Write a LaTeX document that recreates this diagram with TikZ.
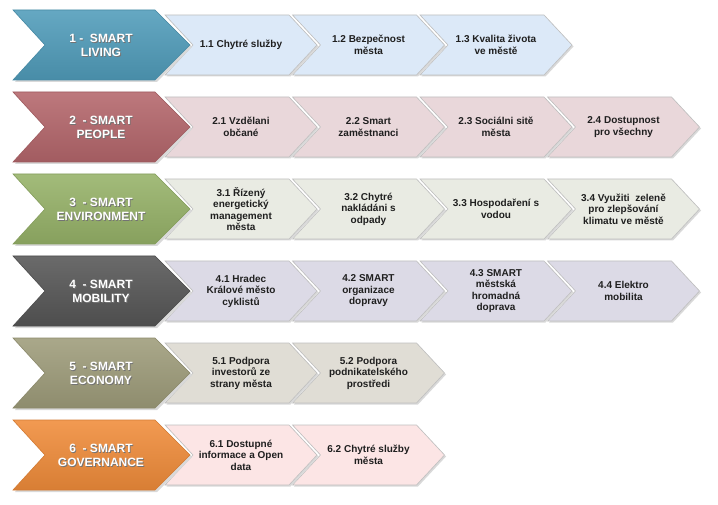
\documentclass[tikz,border=0pt]{standalone}
\usepackage{fontspec}
\setmainfont{Liberation Sans}
\definecolor{m1}{RGB}{80,156,186}
\definecolor{m2}{RGB}{180,102,107}
\definecolor{m3}{RGB}{150,178,104}
\definecolor{m4}{RGB}{86,86,86}
\definecolor{m5}{RGB}{158,156,122}
\definecolor{m6}{RGB}{240,140,58}
\definecolor{s1}{RGB}{220,233,248}
\definecolor{s2}{RGB}{233,215,218}
\definecolor{s3}{RGB}{233,235,227}
\definecolor{s4}{RGB}{220,218,230}
\definecolor{s5}{RGB}{224,221,213}
\definecolor{s6}{RGB}{252,229,229}
\tikzset{
  maintext/.style={font=\bfseries\fontsize{12}{14}\selectfont, text=white, inner sep=0pt},
  subtext/.style={font=\bfseries\fontsize{10}{11.5}\selectfont, text=black!88, align=center, inner sep=0pt},
  shadowfill/.style={fill=black!15},
}
\newcommand\shtxt[1]{\makebox[0pt][l]{\hspace{0.9pt}\raisebox{-0.9pt}{\textcolor{black!55}{\begin{tabular}{@{}c@{}}#1\end{tabular}}}}\begin{tabular}{@{}c@{}}#1\end{tabular}}
% #1 y-centre, #2 colour, #3 node name, #4 text
\newcommand\mainchev[4]{%
  \fill[shadowfill, shift={(2,2)}] (13,{#1-35}) -- (155,{#1-35}) -- (190,#1) -- (155,{#1+35}) -- (13,{#1+35}) -- (45,#1) -- cycle;
  \shade[top color=#2!88!white, middle color=#2, bottom color=#2!90!black, draw=#2!88!black, line width=0.6pt]
    (13,{#1-35}) -- (155,{#1-35}) -- (190,#1) -- (155,{#1+35}) -- (13,{#1+35}) -- (45,#1) -- cycle;
  \node[maintext] (#3) at (101,{#1+2}) {\shtxt{#4}};
}
% #1 index, #2 y-centre, #3 colour, #4 node name, #5 text
\newcommand\subchev[5]{%
  \pgfmathsetmacro\cL{165+127.5*(#1-1)}%
  \fill[shadowfill, shift={(1.5,1.5)}] (\cL,{#2-30}) -- ({\cL+124},{#2-30}) -- ({\cL+152},#2) -- ({\cL+124},{#2+30}) -- (\cL,{#2+30}) -- ({\cL+28},#2) -- cycle;
  \fill[#3, draw=black!25, line width=0.6pt] (\cL,{#2-30}) -- ({\cL+124},{#2-30}) -- ({\cL+152},#2) -- ({\cL+124},{#2+30}) -- (\cL,{#2+30}) -- ({\cL+28},#2) -- cycle;
  \node[subtext] (#4) at ({\cL+76},#2) {#5};
}
\begin{document}
\begin{tikzpicture}[x=1pt,y=-1pt]
\path[use as bounding box, fill=white] (0,0) rectangle (718,505);

% Row 1
\subchev{3}{45}{s1}{s13}{1.3 Kvalita života\\ve městě}
\subchev{2}{45}{s1}{s12}{1.2 Bezpečnost\\města}
\subchev{1}{45}{s1}{s11}{1.1 Chytré služby}
\mainchev{45}{m1}{m1n}{1 -\ \ SMART\\LIVING}

% Row 2
\subchev{4}{127}{s2}{s24}{2.4 Dostupnost\\pro všechny}
\subchev{3}{127}{s2}{s23}{2.3 Sociálni sitě\\města}
\subchev{2}{127}{s2}{s22}{2.2 Smart\\zaměstnanci}
\subchev{1}{127}{s2}{s21}{2.1 Vzdělani\\občané}
\mainchev{127}{m2}{m2n}{2\ \ - SMART\\PEOPLE}

% Row 3
\subchev{4}{209}{s3}{s34}{3.4 Využiti\ \ zeleně\\pro zlepšování\\klimatu ve městě}
\subchev{3}{209}{s3}{s33}{3.3 Hospodaření s\\vodou}
\subchev{2}{209}{s3}{s32}{3.2 Chytré\\nakládáni s\\odpady}
\subchev{1}{209}{s3}{s31}{3.1 Řízený\\energetický\\management\\města}
\mainchev{209}{m3}{m3n}{3\ \ - SMART\\ENVIRONMENT}

% Row 4
\subchev{4}{291}{s4}{s44}{4.4 Elektro\\mobilita}
\subchev{3}{291}{s4}{s43}{4.3 SMART\\městská\\hromadná\\doprava}
\subchev{2}{291}{s4}{s42}{4.2 SMART\\organizace\\dopravy}
\subchev{1}{291}{s4}{s41}{4.1 Hradec\\Králové město\\cyklistů}
\mainchev{291}{m4}{m4n}{4\ \ - SMART\\MOBILITY}

% Row 5
\subchev{2}{373}{s5}{s52}{5.2 Podpora\\podnikatelského\\prostředi}
\subchev{1}{373}{s5}{s51}{5.1 Podpora\\investorů ze\\strany města}
\mainchev{373}{m5}{m5n}{5\ \ - SMART\\ECONOMY}

% Row 6
\subchev{2}{455}{s6}{s62}{6.2 Chytré služby\\města}
\subchev{1}{455}{s6}{s61}{6.1 Dostupné\\informace a Open\\data}
\mainchev{455}{m6}{m6n}{6\ \ - SMART\\GOVERNANCE}
\end{tikzpicture}
\end{document}
